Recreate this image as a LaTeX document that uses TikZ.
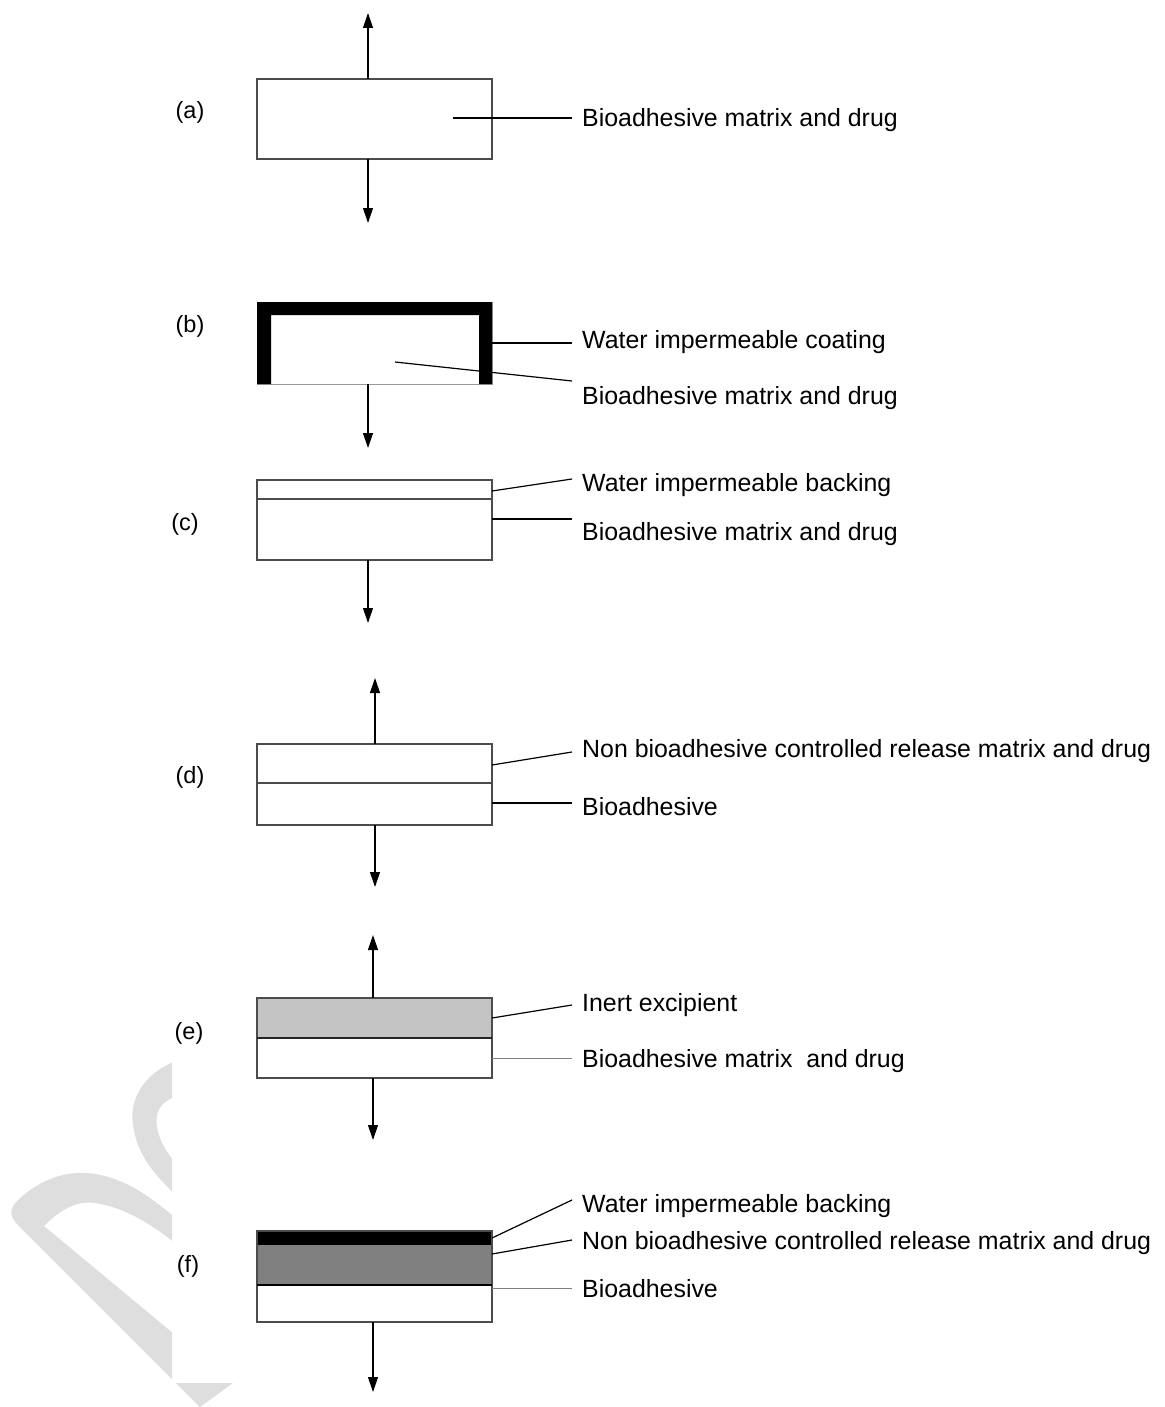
\documentclass[tikz,border=0pt]{standalone}
\usepackage{fontspec}
\setmainfont{Liberation Sans}
\usetikzlibrary{arrows.meta,calc}
\definecolor{inertgray}{RGB}{196,196,196}
\definecolor{matrixgray}{RGB}{128,128,128}
\definecolor{markgray}{RGB}{222,222,222}

\begin{document}
\begin{tikzpicture}[x=1pt,y=-1pt,
  box/.style={draw=black!70,line width=1.3pt,minimum width=235pt,inner sep=0pt,outer sep=0pt},
  seam/.style={draw=black!70,line width=1.3pt},
  flow/.style={line width=1.2pt,-{Triangle[length=15pt,width=10pt]}},
  lead/.style={line width=1.2pt},
  faint/.style={line width=1pt,gray},
  lbl/.style={anchor=base,inner sep=0pt,font=\fontsize{23.5}{28}\selectfont},
  txt/.style={anchor=base west,inner sep=0pt,font=\fontsize{24.9}{29}\selectfont}]
  \useasboundingbox (0,0) rectangle (1164,1407);
  % watermark
  \begin{scope}
    \clip (0,1040) -- (172,1040) -- (172,1383) -- (300,1383) -- (300,1407) -- (0,1407) -- cycle;
    \fill[markgray] (200,1055) .. controls (150,1062) and (128,1095) .. (133,1125)
      .. controls (137,1155) and (155,1180) .. (200,1215) -- (200,1185)
      .. controls (165,1160) and (152,1130) .. (158,1112)
      .. controls (162,1100) and (175,1095) .. (200,1092) -- cycle;
    \fill[markgray] (200,1407) -- (18,1225) .. controls (8,1215) and (10,1208) .. (18,1200)
      .. controls (45,1175) and (75,1168) .. (105,1176)
      .. controls (135,1184) and (160,1203) .. (200,1240) -- (200,1265)
      .. controls (165,1232) and (130,1208) .. (95,1203)
      .. controls (75,1200) and (58,1212) .. (44,1226) -- (233,1383) -- cycle;
  \end{scope}
  \foreach \tag/\px/\py in {a/190/119,b/190/332,c/185/530,d/190/783,e/189/1039,f/188/1272}
    \node[lbl] (tag-\tag) at (\px,\py) {(\tag)};

  % (a)
  \node[box,minimum height=80pt] (a1) at (374.5,119) {};
  \draw[flow] ($(a1.north)+(-6.5,0)$) -- ++(0,-66);
  \draw[flow] ($(a1.south)+(-6.5,0)$) -- ++(0,64);
  \node[txt] (ta) at (582,127) {Bioadhesive matrix and drug};
  \coordinate (ea) at ($(ta.base west)+(-10,-9)$);
  \draw[lead] ($(a1.center)+(78.5,-1)$) -- (ea);

  % (b)
  \node[box,draw=gray!80,line width=1pt,minimum height=82pt] (b1) at (374.5,343) {};
  \fill (b1.south west) -- (b1.north west) -- (b1.north east) -- (b1.south east) -- ++(-13,0)
    -- ++(0,-69) -- ($(b1.south west)+(14,-69)$) -- ($(b1.south west)+(14,0)$) -- cycle;
  \draw[flow] ($(b1.south)+(-6.5,0)$) -- ++(0,64);
  \node[txt] (tb1) at (582,348) {Water impermeable coating};
  \node[txt] (tb2) at (582,404) {Bioadhesive matrix and drug};
  \coordinate (eb1) at ($(tb1.base west)+(-10,-5)$);
  \coordinate (eb2) at ($(tb2.base west)+(-10,-23)$);
  \draw[lead] (b1.east) -- (eb1);
  \draw[lead] ($(b1.center)+(20.5,19)$) -- (eb2);

  % (c)
  \node[box,minimum height=80pt] (c1) at (374.5,520) {};
  \draw[seam] ($(c1.north west)+(0,19)$) -- ($(c1.north east)+(0,19)$);
  \draw[flow] ($(c1.south)+(-6.5,0)$) -- ++(0,63);
  \node[txt] (tc1) at (582,491) {Water impermeable backing};
  \node[txt] (tc2) at (582,540) {Bioadhesive matrix and drug};
  \coordinate (ec1) at ($(tc1.base west)+(-10,-12)$);
  \coordinate (ec2) at ($(tc2.base west)+(-10,-21)$);
  \draw[lead] ($(c1.north east)+(0,11)$) -- (ec1);
  \draw[lead] ($(c1.east)+(0,-1)$) -- (ec2);

  % (d)
  \node[box,minimum height=81pt] (d1) at (374.5,784.5) {};
  \draw[seam] ($(d1.north west)+(0,39)$) -- ($(d1.north east)+(0,39)$);
  \draw[flow] ($(d1.north)+(0.5,0)$) -- ++(0,-66);
  \draw[flow] ($(d1.south)+(0.5,0)$) -- ++(0,62);
  \node[txt] (td1) at (582,757) {Non bioadhesive controlled release matrix and drug};
  \node[txt] (td2) at (582,815) {Bioadhesive};
  \coordinate (ed1) at ($(td1.base west)+(-10,-5)$);
  \coordinate (ed2) at ($(td2.base west)+(-10,-12)$);
  \draw[lead] ($(d1.north east)+(0,21)$) -- (ed1);
  \draw[lead] ($(d1.north east)+(0,59)$) -- (ed2);

  % (e)
  \node[box,minimum height=80pt,path picture={
    \fill[inertgray] (path picture bounding box.north west) rectangle (path picture bounding box.east);}]
    (e1) at (374.5,1038) {};
  \draw[line width=2pt,black!85] (e1.west) -- (e1.east);
  \draw[flow] ($(e1.north)+(-1.5,0)$) -- ++(0,-63);
  \draw[flow] ($(e1.south)+(-1.5,0)$) -- ++(0,62);
  \node[txt] (te1) at (582,1011) {Inert excipient};
  \node[txt] (te2) at (582,1067) {Bioadhesive matrix\ \ and drug};
  \coordinate (ee1) at ($(te1.base west)+(-10,-6)$);
  \coordinate (ee2) at ($(te2.base west)+(-10,-9)$);
  \draw[lead] ($(e1.north east)+(0,20)$) -- (ee1);
  \draw[faint] ($(e1.east)+(0,20)$) -- (ee2);

  % (f)
  \node[box,minimum height=91pt,path picture={
    \fill[matrixgray] ($(path picture bounding box.north west)+(0,14)$) rectangle ($(path picture bounding box.north east)+(0,54)$);
    \fill[black] (path picture bounding box.north west) rectangle ($(path picture bounding box.north east)+(0,14)$);}]
    (f1) at (374.5,1276.5) {};
  \draw[line width=1.6pt] ($(f1.north west)+(0,54)$) -- ($(f1.north east)+(0,54)$);
  \draw[flow] ($(f1.south)+(-1.5,0)$) -- ++(0,70);
  \node[txt] (tf1) at (582,1212) {Water impermeable backing};
  \node[txt] (tf2) at (582,1249) {Non bioadhesive controlled release matrix and drug};
  \node[txt] (tf3) at (582,1297) {Bioadhesive};
  \coordinate (ef1) at ($(tf1.base west)+(-10,-12)$);
  \coordinate (ef2) at ($(tf2.base west)+(-10,-9)$);
  \coordinate (ef3) at ($(tf3.base west)+(-10,-9)$);
  \draw[lead] ($(f1.north east)+(0,7)$) -- (ef1);
  \draw[lead] ($(f1.north east)+(0,23)$) -- (ef2);
  \draw[faint] ($(f1.north east)+(0,57)$) -- (ef3);
\end{tikzpicture}
\end{document}
